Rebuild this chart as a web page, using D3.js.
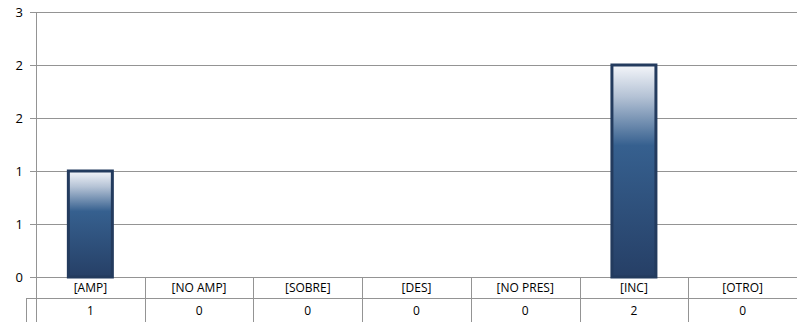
<!DOCTYPE html>
<html><head><meta charset="utf-8">
<script src="https://cdn.jsdelivr.net/npm/d3@7"></script>
<style>body{margin:0;background:#fff}svg{display:block}</style>
</head><body>
<svg id="c" width="797" height="322"></svg>
<script>
const categories = ["[AMP]","[NO AMP]","[SOBRE]","[DES]","[NO PRES]","[INC]","[OTRO]"];
const values = [1,0,0,0,0,2,0];
const yTicks = [0,0.5,1,1.5,2,2.5];
const yTickLabels = ["0","1","1","2","2","3"];

(function(){
const svg = d3.select("#c");
const W = 797, H = 322;
const pLeft = 36, pRight = 797, pTop = 12, pBottom = 277;
const row1 = 298;
const font = "'Open Sans', 'Liberation Sans', sans-serif";
const grid = "#949494";

const x = d3.scaleBand().domain(categories).range([pLeft, pRight]).paddingInner(0).paddingOuter(0);
const y = d3.scaleLinear().domain([0, 2.5]).range([pBottom, pTop]);

const defs = svg.append("defs");
const g = defs.append("linearGradient").attr("id","bg").attr("x1",0).attr("y1",0).attr("x2",0).attr("y2",1);
g.append("stop").attr("offset","0%").attr("stop-color","#f4f6fa");
g.append("stop").attr("offset","15%").attr("stop-color","#b4c2d5");
g.append("stop").attr("offset","38%").attr("stop-color","#36608f");
g.append("stop").attr("offset","100%").attr("stop-color","#263f66");

svg.append("g").selectAll("line").data(yTicks).join("line")
  .attr("x1", pLeft - 6).attr("x2", pRight)
  .attr("y1", d => Math.round(y(d)) + 0.5).attr("y2", d => Math.round(y(d)) + 0.5)
  .attr("stroke", grid).attr("stroke-width", 1);

svg.append("g").selectAll("text").data(yTicks).join("text")
  .attr("x", 23).attr("y", d => y(d) + 4.5)
  .attr("text-anchor","end").attr("font-family", font).attr("font-size", 13).attr("fill","#000")
  .text((d,i) => yTickLabels[i]);

svg.append("line").attr("x1", pLeft + 0.5).attr("x2", pLeft + 0.5).attr("y1", pTop).attr("y2", H)
  .attr("stroke", grid);

const bw = 44;
svg.append("g").selectAll("rect").data(values.map((v,i)=>({c:categories[i], v})).filter(d=>d.v>0)).join("rect")
  .attr("x", d => x(d.c) + x.bandwidth()/2 - bw/2)
  .attr("y", d => y(d.v))
  .attr("width", bw)
  .attr("height", d => y(0) - y(d.v))
  .attr("fill","url(#bg)")
  .attr("stroke","#233b5e").attr("stroke-width", 3);

const tg = svg.append("g");
tg.append("line").attr("x1", 26).attr("x2", pRight).attr("y1", row1 + 0.5).attr("y2", row1 + 0.5).attr("stroke", grid);
tg.append("line").attr("x1", 26.5).attr("x2", 26.5).attr("y1", row1).attr("y2", H).attr("stroke", grid);
tg.selectAll("line.div").data(categories.slice(1)).join("line").attr("class","div")
  .attr("x1", d => Math.round(x(d)) + 0.5).attr("x2", d => Math.round(x(d)) + 0.5)
  .attr("y1", pBottom).attr("y2", H).attr("stroke", grid);
tg.selectAll("text.cat").data(categories).join("text").attr("class","cat")
  .attr("x", d => x(d) + x.bandwidth()/2).attr("y", 292)
  .attr("text-anchor","middle").attr("font-family", font).attr("font-size", 12).attr("fill","#000")
  .text(d => d);
tg.selectAll("text.val").data(values).join("text").attr("class","val")
  .attr("x", (d,i) => x(categories[i]) + x.bandwidth()/2).attr("y", 315)
  .attr("text-anchor","middle").attr("font-family", font).attr("font-size", 12).attr("fill","#000")
  .text(d => d);
})();
</script>
</body></html>
